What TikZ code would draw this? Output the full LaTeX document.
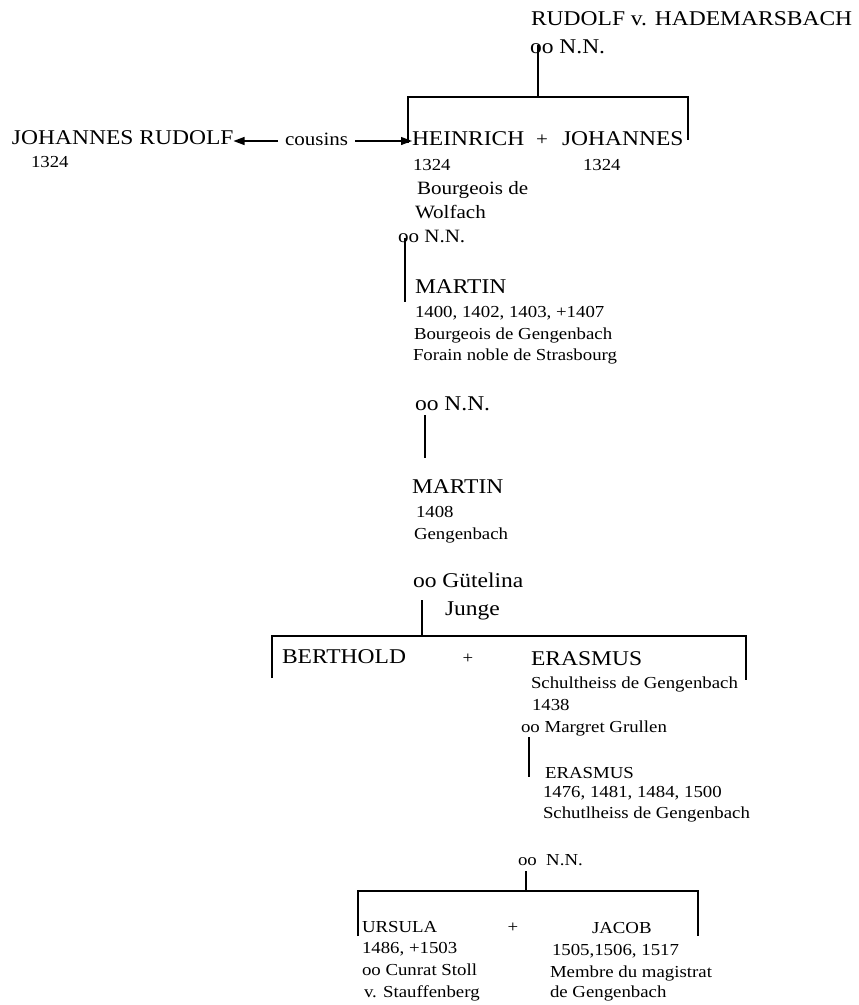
\documentclass[tikz,border=0pt]{standalone}
\usepackage{fontspec}
\setmainfont{Liberation Serif}[FakeStretch=1.12]
\usetikzlibrary{arrows.meta}

\newcommand{\szBig}{\fontsize{21}{24}\selectfont}
\newcommand{\szMid}{\fontsize{18.8}{22}\selectfont}
\newcommand{\szSmall}{\fontsize{16.8}{20}\selectfont}

\tikzset{
  txt/.style={inner sep=0pt, outer sep=0pt, anchor=base west},
  bigtxt/.style={txt, font=\szBig},
  midtxt/.style={txt, font=\szMid},
  smalltxt/.style={txt, font=\szSmall},
  plussign/.style={inner sep=0pt, anchor=base, font=\szSmall},
  ln/.style={line width=1.2pt},
  cuz/.style={line width=1.2pt, -{Triangle[length=11pt,width=8pt]}}
}

\begin{document}
\begin{tikzpicture}[x=1pt,y=-1pt]
\useasboundingbox (0,0) rectangle (859,1005);

% --- first generation
\node[bigtxt] (rudolf) at (531,25) {RUDOLF v. HADEMARSBACH};
\node[bigtxt] (rudolfnn) at (530,53) {oo N.N.};

% --- Heinrich and Johannes, with their cousin
\node[bigtxt] (jr) at (12,144) {JOHANNES RUDOLF};
\node[smalltxt] (jrdate) at (31,167) {1324};
\node[midtxt] (cousins) at (285,145) {cousins};
\node[bigtxt] (heinrich) at (412,145) {HEINRICH};
\node[plussign, font=\szMid] (plusA) at (542,145) {+};
\node[bigtxt] (johannes) at (562,145) {JOHANNES};
\node[smalltxt] (hdate) at (413,170) {1324};
\node[smalltxt] (jdate) at (583,170) {1324};
\node[midtxt] (hbourg) at (417,194) {Bourgeois de};
\node[midtxt] (hwolf) at (415,218) {Wolfach};
\node[midtxt] (hnn) at (398,242) {oo N.N.};

% --- Martin (I)
\node[bigtxt] (martinA) at (415,293) {MARTIN};
\node[smalltxt] (mAdates) at (415,317) {1400, 1402, 1403, +1407};
\node[smalltxt] (mAbourg) at (414,339) {Bourgeois de Gengenbach};
\node[smalltxt] (mAforain) at (413,360) {Forain noble de Strasbourg};
\node[bigtxt] (mAnn) at (415,410) {oo N.N.};

% --- Martin (II)
\node[bigtxt] (martinB) at (412,493) {MARTIN};
\node[smalltxt] (mBdate) at (416,517) {1408};
\node[smalltxt] (mBplace) at (414,539) {Gengenbach};
\node[bigtxt] (mBwife) at (413,587) {oo Gütelina};
\node[bigtxt] (mBwifeB) at (445,615) {Junge};

% --- Berthold and Erasmus
\node[bigtxt] (berthold) at (282,663) {BERTHOLD};
\node[plussign] (plusB) at (468,663) {+};
\node[bigtxt] (erasmusA) at (531,665) {ERASMUS};
\node[smalltxt] (eAtitle) at (531,688) {Schultheiss de Gengenbach};
\node[smalltxt] (eAdate) at (532,710) {1438};
\node[smalltxt] (eAwife) at (521,732) {oo Margret Grullen};

% --- Erasmus (II)
\node[smalltxt] (erasmusB) at (545,778) {ERASMUS};
\node[smalltxt] (eBdates) at (543,797) {1476, 1481, 1484, 1500};
\node[smalltxt] (eBtitle) at (543,818) {Schutlheiss de Gengenbach};
\node[smalltxt] (eBwife) at (518,865) {oo\ \ N.N.};

% --- Ursula and Jacob
\node[smalltxt] (ursula) at (362,932) {URSULA};
\node[smalltxt] (uDates) at (362,953) {1486, +1503};
\node[smalltxt] (uWife) at (362,975) {oo Cunrat Stoll};
\node[smalltxt] (uWifeB) at (364,997) {v. Stauffenberg};
\node[plussign] (plusC) at (513,932) {+};
\node[smalltxt] (jacob) at (592,933) {JACOB};
\node[smalltxt] (jDates) at (552,955) {1505,1506, 1517};
\node[smalltxt] (jTitle) at (550,977) {Membre du magistrat};
\node[smalltxt] (jPlace) at (550,997) {de Gengenbach};

% --- bracket over Heinrich + Johannes
\coordinate (bA1) at (408,143);
\coordinate (bA2) at (408,97);
\coordinate (bA3) at (688,97);
\coordinate (bA4) at (688,140);
\coordinate (bAmid) at (538,97);
\draw[ln] ([xshift=8pt,yshift=8pt]rudolfnn.base west) -- (bAmid);
\draw[ln] (bA1) -- (bA2) -- (bA3) -- (bA4);

% --- cousins arrows
\coordinate (cuzL) at (278,141);
\coordinate (cuzR) at (355,141);
\draw[cuz] (cuzL) -- (jr.east |- cuzL);
\draw[cuz] (cuzR) -- (heinrich.west |- cuzR);

% --- descent lines
\coordinate (dA) at (405,302);
\draw[ln] ([xshift=7pt,yshift=4pt]hnn.base west) -- (dA);
\coordinate (dB) at (425,458);
\draw[ln] ([xshift=10pt,yshift=-5pt]mAnn.base west) -- (dB);

% --- bracket over Berthold + Erasmus
\coordinate (bB1) at (272,678);
\coordinate (bB2) at (272,636);
\coordinate (bB3) at (746,636);
\coordinate (bB4) at (746,680);
\coordinate (bBmid) at (422,636);
\draw[ln] ([xshift=9pt,yshift=-13pt]mBwife.base west) -- (bBmid);
\draw[ln] (bB1) -- (bB2) -- (bB3) -- (bB4);

\coordinate (dC) at (529,777);
\draw[ln] ([xshift=8pt,yshift=-5pt]eAwife.base west) -- (dC);

% --- bracket over Ursula + Jacob
\coordinate (bC1) at (358,936);
\coordinate (bC2) at (358,891);
\coordinate (bC3) at (698,891);
\coordinate (bC4) at (698,936);
\coordinate (bCmid) at (526,891);
\draw[ln] ([xshift=8pt,yshift=-6pt]eBwife.base west) -- (bCmid);
\draw[ln] (bC1) -- (bC2) -- (bC3) -- (bC4);
\end{tikzpicture}
\end{document}
